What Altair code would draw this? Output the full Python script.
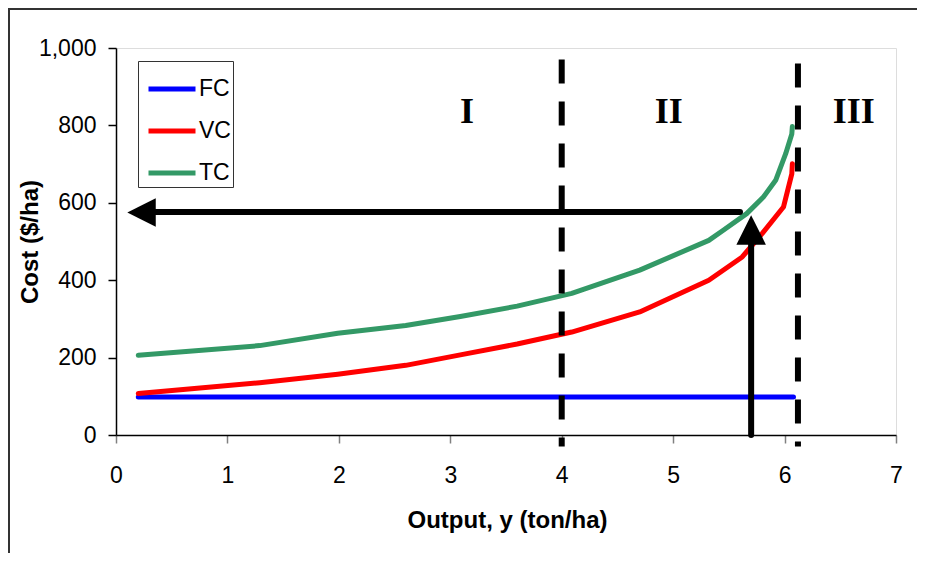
import altair as alt
import pandas as pd

# ---- data ----
fc_x = [0.2, 6.08]
fc_y = [98, 98]

vc_x = [0.2, 1.29, 1.99, 2.6, 3.09, 3.6, 4.09, 4.70, 5.32, 5.62, 5.80, 5.99, 6.065, 6.07]
vc_y = [107, 135, 157, 180, 207, 235, 266, 318, 400, 460, 521, 589, 675, 701]

tc_x = [0.2, 1.29, 1.99, 2.6, 3.09, 3.6, 4.09, 4.70, 5.32, 5.45, 5.66, 5.81, 5.92, 6.01, 6.065, 6.07]
tc_y = [206, 231, 263, 283, 306, 333, 366, 426, 503, 529, 572, 615, 658, 727, 778, 797]

series_names = ["FC", "VC", "TC"]
series_colors = ["#0000FF", "#FF0000", "#339966"]

stage_x = [4.0, 6.12]          # stage boundaries (dashed)
stage_top = [970, 960]
stage_bottom = [-30, -30]

stage_labels = ["I", "II", "III"]
stage_label_x = [3.15, 4.96, 6.62]
stage_label_y = [835, 835, 835]

h_arrow = {"x": [0.3], "x2": [5.6], "y": [576]}
h_head = {"x": [0.229], "y": [575]}
v_arrow = {"x": [5.70], "y": [0], "y2": [520]}
v_head = {"x": [5.70], "y": [530]}

x_ticks = [0, 1, 2, 3, 4, 5, 6, 7]
y_ticks = [0, 200, 400, 600, 800, 1000]

# ---- tables ----
rows = []
for name, xs, ys in [("FC", fc_x, fc_y), ("VC", vc_x, vc_y), ("TC", tc_x, tc_y)]:
    for i, (a, b) in enumerate(zip(xs, ys)):
        rows.append({"x": a, "cost": b, "series": name, "idx": i})
lines_df = pd.DataFrame(rows)

stage_df = pd.DataFrame({"x": stage_x, "top": stage_top, "bottom": stage_bottom})
label_df = pd.DataFrame({"x": stage_label_x, "y": stage_label_y, "t": stage_labels})

FONT = "Liberation Sans"

xscale = alt.Scale(domain=[0, 7], nice=False)
yscale = alt.Scale(domain=[0, 1000], nice=False)

x_axis = alt.Axis(values=x_ticks, format="d", title="Output, y (ton/ha)", grid=False,
                  labelFontSize=23, labelFont=FONT, labelColor="black", labelPadding=21,
                  labelFlush=False,
                  tickSize=8, tickColor="#808080", tickWidth=1.5,
                  domainColor="black", domainWidth=1.5,
                  titleFont=FONT, titleFontSize=24, titleFontWeight="bold", titleColor="black",
                  titleX=391, titleY=85, titleAlign="center", titleBaseline="middle")
y_axis = alt.Axis(values=y_ticks, format=",d", title="Cost ($/ha)", grid=False,
                  labelFontSize=23, labelFont=FONT, labelColor="black", labelPadding=12,
                  labelFlush=False,
                  tickSize=8, tickColor="black", tickWidth=1.5,
                  domainColor="black", domainWidth=1.5,
                  titleFont=FONT, titleFontSize=24, titleFontWeight="bold", titleColor="black",
                  titleX=-86, titleY=193.5, titleAngle=-90, titleAlign="center", titleBaseline="middle")


def X(field):
    return alt.X(field, type="quantitative", scale=xscale, axis=x_axis)


def Y(field):
    return alt.Y(field, type="quantitative", scale=yscale, axis=y_axis)


lines = alt.Chart(lines_df).mark_line(strokeWidth=5, strokeCap="round", strokeJoin="round").encode(
    x=X("x"),
    y=Y("cost"),
    order="idx:Q",
    color=alt.Color("series:N",
                    scale=alt.Scale(domain=series_names, range=series_colors),
                    legend=alt.Legend(title=None, orient="none", legendX=22, legendY=13,
                                      symbolType="stroke", symbolSize=2209, symbolStrokeWidth=5,
                                      symbolOffset=6,
                                      labelFontSize=23, labelFont=FONT, labelColor="black",
                                      labelExpr="datum.label + ' '",
                                      padding=2, fillColor="white", strokeColor="#333333",
                                      rowPadding=4, labelOffset=1)),
)

stages = alt.Chart(stage_df).mark_rule(strokeWidth=6, strokeDash=[24, 18], color="black").encode(
    x=X("x"), y=Y("top"), y2="bottom:Q")

labels = alt.Chart(label_df).mark_text(font="Liberation Serif", fontWeight="bold", fontSize=36,
                                       color="black", baseline="middle").encode(
    x=X("x"), y=Y("y"), text="t:N")

harrow = alt.Chart(pd.DataFrame(h_arrow)).mark_rule(strokeWidth=6, strokeCap="round", color="black").encode(
    x=X("x"), x2="x2:Q", y=Y("y"))
hhead = alt.Chart(pd.DataFrame(h_head)).mark_point(shape="M-1,0L1,-1L1,1Z", size=807, filled=True,
                                                   color="black", opacity=1, strokeWidth=0).encode(
    x=X("x"), y=Y("y"))
varrow = alt.Chart(pd.DataFrame(v_arrow)).mark_rule(strokeWidth=6, strokeCap="round", color="black").encode(
    x=X("x"), y=Y("y"), y2="y2:Q")
vhead = alt.Chart(pd.DataFrame(v_head)).mark_point(shape="M0,-1L1,1L-1,1Z", size=870, filled=True,
                                                   color="black", opacity=1, strokeWidth=0).encode(
    x=X("x"), y=Y("y"))

one = pd.DataFrame({"k": [0]})
frame_left = alt.Chart(one).mark_rule(color="#333333", strokeWidth=2).encode(
    x=alt.value(-107), y=alt.value(-39), y2=alt.value(505))
frame_top = alt.Chart(one).mark_rule(color="#333333", strokeWidth=2).encode(
    x=alt.value(-108), x2=alt.value(801), y=alt.value(-39))

chart = alt.layer(lines, stages, labels, harrow, varrow, vhead, frame_left, frame_top, hhead).properties(
    width=780, height=387,
    autosize=alt.AutoSizeParams(type="none"),
    padding={"left": 108, "top": 40, "right": 21, "bottom": 118},
).configure_view(stroke="#808080", strokeWidth=1.5).configure(background="white")

chart.save("out.html", embed_options={"renderer": "svg", "actions": False})
